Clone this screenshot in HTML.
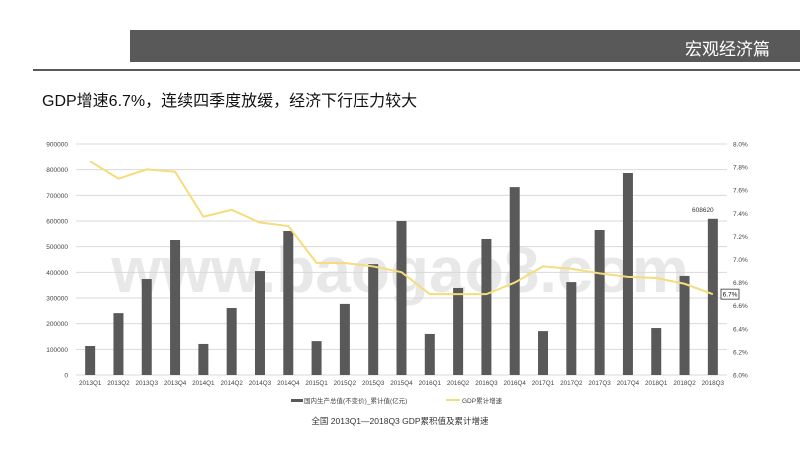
<!DOCTYPE html>
<html><head><meta charset="utf-8">
<style>
body{margin:0;width:800px;height:450px;background:#fff;overflow:hidden;font-family:"Liberation Sans","Noto Sans CJK SC",sans-serif;position:relative}
.hdr{position:absolute;left:130px;top:30px;width:670px;height:32px;background:#595959}
.hdr span{position:absolute;right:30px;top:5px;color:#fff;font-size:17px}
.rule{position:absolute;left:33px;top:69px;width:767px;height:2px;background:#595959}
.title{position:absolute;left:42px;top:87px;font-size:16px;color:#111}
svg{position:absolute;left:0;top:0}
</style></head><body>
<div class="hdr"><span>宏观经济篇</span></div>
<div class="rule"></div>
<div class="title">GDP增速6.7%，连续四季度放缓，经济下行压力较大</div>
<svg id="chart" width="800" height="450"></svg>
<script>
const categories=["2013Q1","2013Q2","2013Q3","2013Q4","2014Q1","2014Q2","2014Q3","2014Q4","2015Q1","2015Q2","2015Q3","2015Q4","2016Q1","2016Q2","2016Q3","2016Q4","2017Q1","2017Q2","2017Q3","2017Q4","2018Q1","2018Q2","2018Q3"];
const gdpValues=[113000,241000,374000,526000,121000,261000,405000,561000,132000,277000,432000,600000,160000,339000,530000,732000,171000,362000,565000,787000,183000,386000,608620];
const growthValues=[7.85,7.7,7.78,7.76,7.37,7.43,7.32,7.29,6.97,6.97,6.94,6.89,6.7,6.7,6.7,6.8,6.94,6.92,6.88,6.85,6.84,6.79,6.7];
const leftTicks=[0,100000,200000,300000,400000,500000,600000,700000,800000,900000];
const rightTicks=["6.0%","6.2%","6.4%","6.6%","6.8%","7.0%","7.2%","7.4%","7.6%","7.8%","8.0%"];
const NS="http://www.w3.org/2000/svg";
const svg=document.getElementById('chart');
const X0=76,X1=727,Y0=375,Y1=144;
const band=(X1-X0)/categories.length;
const xc=i=>X0+band*(i+0.5);
const yL=v=>Y0-(v/900000)*(Y0-Y1);
const yR=v=>Y0-((v-6)/2)*(Y0-Y1);
function mk(t,a){const e=document.createElementNS(NS,t);for(const k in a)e.setAttribute(k,a[k]);svg.appendChild(e);return e;}
// watermark
const wm=mk('text',{x:400,y:292,'text-anchor':'middle','font-size':64,'font-weight':'bold',fill:'#e4e4e4','fill-opacity':0.85,'font-family':'Liberation Sans, sans-serif'});


wm.textContent='www.baogao8.com';
leftTicks.forEach(v=>{
  const g=mk('line',{x1:X0,x2:X1,y1:yL(v),y2:yL(v),stroke:'#d9d9d9','stroke-width':1});
  
  
  const t=mk('text',{x:68,y:yL(v)+2.5,'text-anchor':'end','font-size':6.5,fill:'#444'});
  
  
  t.textContent=v;
});
rightTicks.forEach((s,i)=>{
  const t=mk('text',{x:733,y:yR(6+i*0.2)+2.5,'font-size':6.5,fill:'#444'});
  
  
  t.textContent=s;
});
gdpValues.forEach((v,i)=>{
  const r=mk('rect',{x:xc(i)-5,y:yL(v),width:10,height:Y0-yL(v),fill:'#595959'});
  
  
});
categories.forEach((c,i)=>{
  const t=mk('text',{x:xc(i),y:385,'text-anchor':'middle','font-size':6.3,fill:'#444'});
  
  
  t.textContent=c;
});
const pts=growthValues.map((v,i)=>xc(i)+','+yR(v)).join(' ');
const pl=mk('polyline',{points:pts,fill:'none',stroke:'#f5dc7c','stroke-width':2});


const li=gdpValues.length-1;
const bl=mk('text',{x:xc(li)-10,y:yL(gdpValues[li])-7,'text-anchor':'middle','font-size':6.5,fill:'#333'});


bl.textContent=gdpValues[li];
const lb=mk('rect',{x:721,y:yR(growthValues[li])-5,width:18,height:10,fill:'#fff',stroke:'#333','stroke-width':0.8});


const lt=mk('text',{x:730,y:yR(growthValues[li])+2.5,'text-anchor':'middle','font-size':6.5,fill:'#111'});


lt.textContent=growthValues[li]+'%';
// legend
const l1=mk('rect',{x:291,y:399,width:12,height:3,fill:'#595959'});


const l1t=mk('text',{x:304,y:403,'font-size':6.5,fill:'#444'});


l1t.textContent='国内生产总值(不变价)_累计值(亿元)';
const l2=mk('rect',{x:446,y:399,width:14,height:2,fill:'#f5dc7c'});


const l2t=mk('text',{x:462,y:403,'font-size':6.5,fill:'#444'});


l2t.textContent='GDP累计增速';
const cap=mk('text',{x:400,y:424,'text-anchor':'middle','font-size':8.5,fill:'#333'});


cap.textContent='全国  2013Q1—2018Q3   GDP累积值及累计增速';
</script>
</body></html>
